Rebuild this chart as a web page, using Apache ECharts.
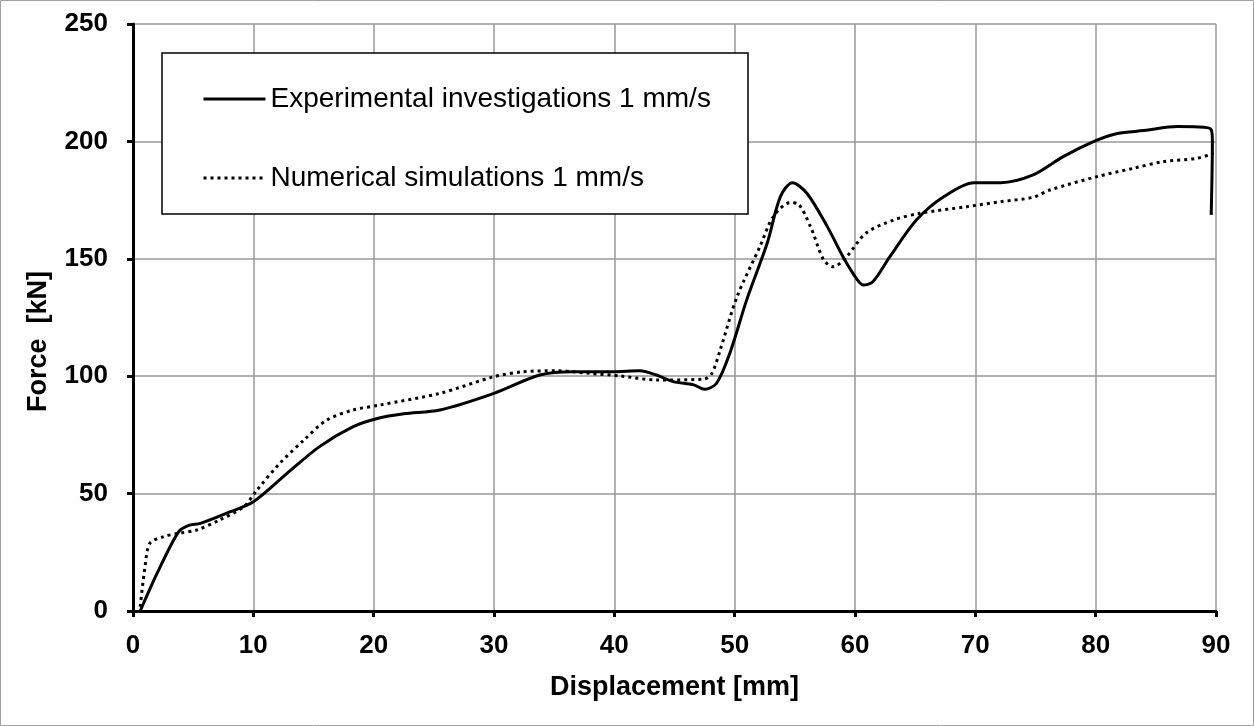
<!DOCTYPE html>
<html>
<head>
<meta charset="utf-8">
<script src="https://cdn.jsdelivr.net/npm/echarts@6/dist/echarts.min.js"></script>
<style>
  html, body { margin: 0; padding: 0; background: #fff; }
  #chart { width: 1254px; height: 726px; }
</style>
</head>
<body>
<div id="chart"></div>
<script>
// displacement [mm], force [kN]
const expX = [0.6, 2.0, 3.8, 4.7, 5.6, 8.1, 10.0, 12.8, 15.5, 18.3, 20.3, 22.5, 25.5, 30.0, 33.8, 36.6, 39.9, 42.1, 43.5, 44.9, 46.6, 47.5, 48.5, 49.6, 51.0, 52.7, 53.8, 54.8, 56.0, 57.7, 59.0, 60.2, 60.7, 61.5, 62.9, 65.1, 67.4, 69.9, 72.1, 74.8, 77.3, 80.0, 81.8, 84.0, 86.8, 89.0, 89.6, 89.7, 89.6];
const expY = [0, 16, 33.8, 36.6, 37.3, 42.3, 46.5, 58.6, 70, 78.5, 82, 84, 85.6, 92.7, 100.5, 101.9, 101.9, 102.3, 100.5, 97.7, 96.3, 94.4, 97, 109.8, 132.5, 156.6, 176.5, 182.4, 177.9, 163.7, 150.9, 141, 138.8, 140.3, 150.9, 166.5, 176.5, 182.4, 182.4, 185.7, 193.5, 200.3, 203.4, 204.6, 206.3, 206, 205, 200, 168.7];

const numX = [0.6, 1.0, 1.4, 2.5, 3.8, 5.3, 7.2, 9.2, 10.3, 12.2, 14.2, 16.1, 18.3, 20.5, 25.5, 30.0, 32.4, 35.2, 38.0, 40.5, 43.5, 47.4, 48.1, 48.8, 50.2, 52.1, 53.2, 54.6, 55.2, 56.3, 57.4, 58.2, 59.3, 60.9, 63.2, 65.4, 69.3, 72.1, 74.8, 76.2, 80.1, 83.1, 85.6, 88.4, 89.8];
const numY = [1.8, 18.9, 28.8, 31.6, 33.1, 34.5, 38.8, 44.4, 51.5, 62.9, 72.8, 81.3, 85.6, 87.7, 92.7, 99.8, 101.9, 102.3, 101.2, 100.1, 98.4, 98.7, 101.2, 111.2, 133.9, 155.2, 167.9, 173.9, 173.6, 163.7, 149.5, 146.6, 150.9, 160.9, 166.5, 169.4, 172.2, 174.3, 176.2, 179.3, 185, 188.5, 191.4, 192.8, 194.9];

const xTicks = { min: 0, max: 90, interval: 10 };
const yTicks = { min: 0, max: 250, interval: 50 };

const expData = expX.map((x, i) => [x, expY[i]]);
const numData = numX.map((x, i) => [x, numY[i]]);

const font = 'Liberation Sans, Arial, sans-serif';

const chart = echarts.init(document.getElementById('chart'));
chart.setOption({
  animation: false,
  textStyle: { fontFamily: font },
  grid: { left: 133, right: 38, top: 24, bottom: 115 },
  graphic: [
    {
      type: 'rect', z: 0, silent: true,
      shape: { x: 0.5, y: 0.5, width: 1253, height: 725 },
      style: { fill: 'none', stroke: '#a0a0a0', lineWidth: 1 }
    },
    {
      type: 'rect', z: 10, silent: true,
      shape: { x: 162, y: 53, width: 586, height: 161 },
      style: { fill: '#fff', stroke: '#000', lineWidth: 1.5 }
    }
  ],
  legend: {
    z: 20,
    orient: 'vertical',
    left: 202,
    top: 85,
    padding: 0,
    itemWidth: 62,
    itemHeight: 14,
    itemGap: 51,
    itemStyle: { opacity: 0 },
    lineStyle: { width: 3 },
    textStyle: { fontSize: 28, color: '#000', fontFamily: font },
    data: ['Experimental investigations 1 mm/s', 'Numerical simulations 1 mm/s']
  },
  xAxis: {
    type: 'value',
    min: xTicks.min, max: xTicks.max, interval: xTicks.interval,
    name: 'Displacement [mm]',
    nameLocation: 'middle',
    nameGap: 63,
    nameTextStyle: { fontSize: 27, fontWeight: 'bold', color: '#000' },
    axisLine: { onZero: false, lineStyle: { color: '#000', width: 3 } },
    axisTick: { show: true, length: 6, lineStyle: { color: '#000', width: 3 } },
    axisLabel: { margin: 22, fontSize: 26, fontWeight: 'bold', color: '#000' },
    splitLine: { show: true, lineStyle: { color: '#999', width: 1.5 } }
  },
  yAxis: {
    type: 'value',
    min: yTicks.min, max: yTicks.max, interval: yTicks.interval,
    name: 'Force  [kN]',
    nameLocation: 'middle',
    nameGap: 81,
    nameTextStyle: { fontSize: 27, fontWeight: 'bold', color: '#000', padding: [0, 48, 0, 0] },
    axisLine: { show: true, lineStyle: { color: '#000', width: 3 } },
    axisTick: { show: true, length: 6, lineStyle: { color: '#000', width: 3 } },
    axisLabel: { margin: 25, fontSize: 26, fontWeight: 'bold', color: '#000' },
    splitLine: { show: true, lineStyle: { color: '#999', width: 1.5 } }
  },
  series: [
    {
      name: 'Experimental investigations 1 mm/s',
      type: 'line',
      data: expData,
      smooth: 0.3,
      showSymbol: false,
      symbol: 'none',
      color: '#000',
      lineStyle: { color: '#000', width: 3 }
    },
    {
      name: 'Numerical simulations 1 mm/s',
      type: 'line',
      data: numData,
      smooth: 0.3,
      showSymbol: false,
      symbol: 'none',
      color: '#000',
      lineStyle: { color: '#000', width: 3, type: [3, 4] }
    }
  ]
});
</script>
</body>
</html>
